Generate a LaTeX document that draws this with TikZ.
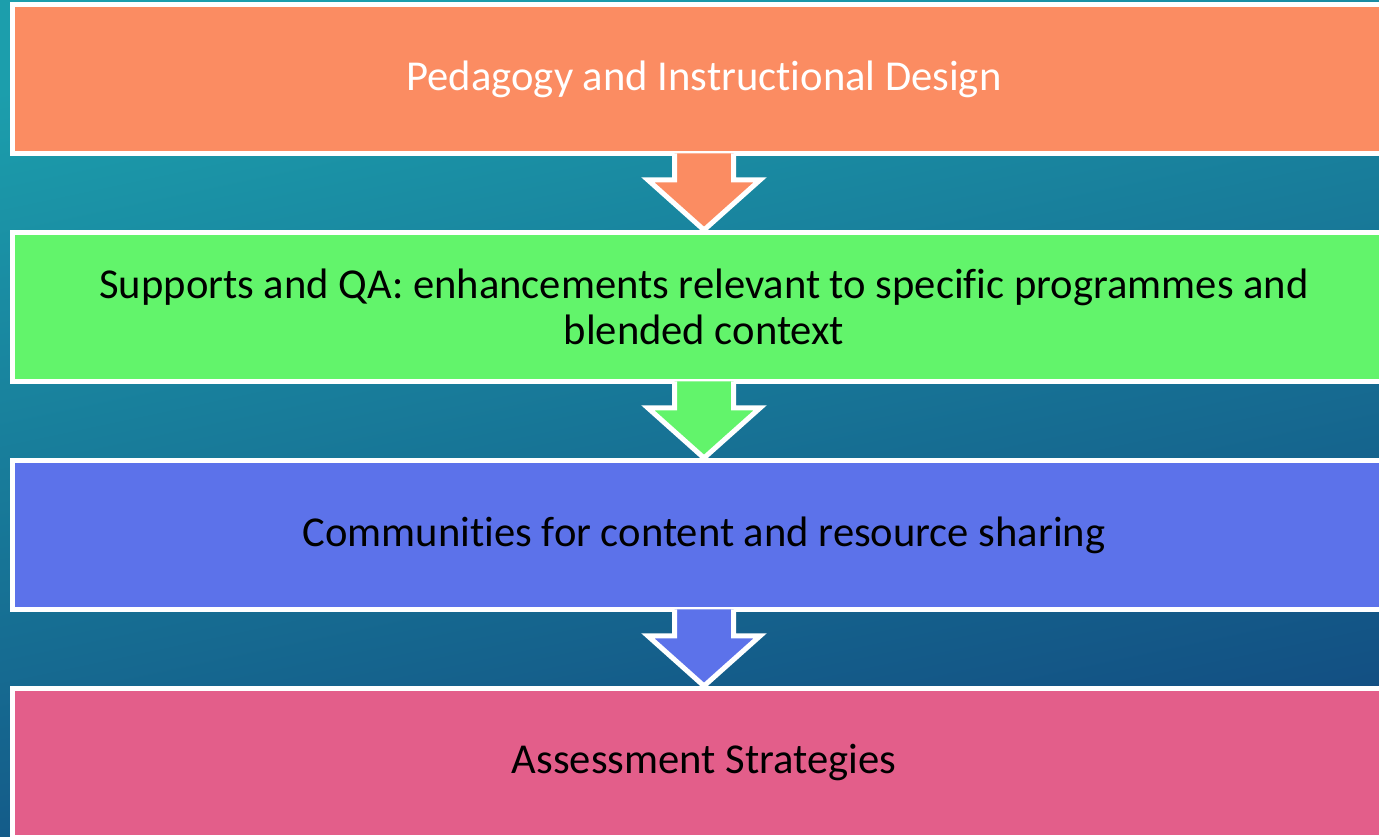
\documentclass[tikz,border=0pt]{standalone}
\usepackage{fontspec}
\setmainfont[Ligatures=NoCommon]{Carlito}
\usetikzlibrary{calc}

\definecolor{bgteal}{RGB}{28,158,172}
\definecolor{bgnavy}{RGB}{18,74,128}
\definecolor{designfill}{RGB}{251,140,98}
\definecolor{supportfill}{RGB}{98,244,107}
\definecolor{communityfill}{RGB}{92,114,234}
\definecolor{assessfill}{RGB}{227,94,138}

\tikzset{
  stage/.style={draw=white, line width=5pt, rectangle, minimum width=1383pt,
    minimum height=149pt, inner sep=0pt, align=center,
    font=\fontsize{42.6}{46}\selectfont},
  edge/.style={white, line width=5pt, line join=miter}
}

% block arrow from the bottom of one stage to the top of the next
\newcommand\flowarrow[3]{%
  \fill[#3] ($(#1.south)+(-29.5,2.5)$) -- ($(#1.south)+(-29.5,-24)$)
    -- ($(#1.south)+(-56,-24)$) -- (#2.north) -- ($(#1.south)+(56,-24)$)
    -- ($(#1.south)+(29.5,-24)$) -- ($(#1.south)+(29.5,2.5)$) -- cycle;
  \draw[edge] ($(#1.south)+(-29.5,2.5)$) -- ($(#1.south)+(-29.5,-24)$)
    -- ($(#1.south)+(-56,-24)$) -- (#2.north) -- ($(#1.south)+(56,-24)$)
    -- ($(#1.south)+(29.5,-24)$) -- ($(#1.south)+(29.5,2.5)$);
}

\begin{document}
\begin{tikzpicture}[x=1pt, y=1pt]

  \newcommand\Dy{228};

  \useasboundingbox (0,0) rectangle (1379,836);
  \clip (0,0) rectangle (1379,836);
  \shade[top color=bgteal, bottom color=bgnavy, shading angle=12]
    (0,0) rectangle (1379,836);

  % the four stages
  \node[stage, fill=designfill, text=white] (design) at (704, 757)
    {Pedagogy and Instructional Design};
  \node[stage, fill=supportfill] (supports) at (704, 757-1*\Dy)
    {Supports and QA: enhancements relevant to specific programmes and\\ blended context};
  \node[stage, fill=communityfill] (community) at (704, 757-2*\Dy)
    {Communities for content and resource sharing};
  \node[stage, fill=assessfill] (assess) at (704, 757-3*\Dy)
    {Assessment Strategies};

  \flowarrow{design}{supports}{designfill}
  \flowarrow{supports}{community}{supportfill}
  \flowarrow{community}{assess}{communityfill}

\end{tikzpicture}
\end{document}
